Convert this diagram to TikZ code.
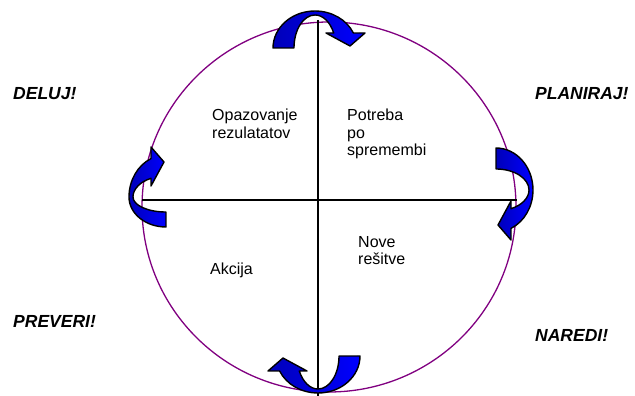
\documentclass[tikz,border=0pt]{standalone}
\usepackage{fontspec}
\setmainfont{Liberation Sans}
\definecolor{ringpurple}{RGB}{128,0,128}
\definecolor{arrowdark}{RGB}{0,0,185}
\definecolor{arrowblue}{RGB}{0,0,255}
\newcommand\cyclearrow[4]{%
  \begin{scope}[shift={(#1,#2)}, rotate=#3]
    \path[arrowsty] (-#4,0)
      arc[start angle=180,end angle=90,x radius=#4,y radius=37]
      arc[start angle=90,end angle=23.9,x radius=42,y radius=37]
      -- (50,15) -- (35,2) -- (11,15) -- (18.7,15)
      arc[start angle=27,end angle=90,x radius=21,y radius=33]
      arc[start angle=90,end angle=180,x radius=#4/2,y radius=33] -- cycle;
  \end{scope}}
\begin{document}
\begin{tikzpicture}[x=1pt,y=1pt,
  axisline/.style={line width=1.3pt, black},
  ring/.style={line width=1.3pt, draw=ringpurple},
  arrowsty/.style={draw=black, line width=1.4pt, line join=round,
    left color=arrowdark, right color=arrowblue},
  inner/.style={inner sep=0pt, align=left, font=\fontsize{16}{17.5}\selectfont},
  phase/.style={inner sep=0pt, font=\fontsize{17.5}{20}\selectfont\bfseries\itshape}]
\useasboundingbox (0,0) rectangle (635,396);
% circle and axes
\draw[ring] (329,189) ellipse[x radius=187, y radius=185];
\coordinate (vtop) at (318,376);
\coordinate (vbot) at (318,0);
\coordinate (hl) at (142,196);
\coordinate (hr) at (517,196);
\draw[axisline] (vtop) -- (vbot);
\draw[axisline] (hl) -- (hr);
% curved arrows
\cyclearrow{315}{348}{0}{42}
\cyclearrow{496}{206}{-90}{42}
\cyclearrow{318}{40}{180}{42}
\cyclearrow{166}{199}{90}{30}
% quadrant texts
\node[inner, anchor=north west] (obs) at (212,287) {Opazovanje\\rezulatatov};
\node[inner, anchor=north west] (need) at (347,287) {Potreba\\po\\spremembi};
\node[inner, anchor=north west] (new) at (358,160) {Nove\\rešitve};
\node[inner, anchor=north west] (act) at (210,133) {Akcija};
% phase labels
\node[phase, anchor=base west] (deluj) at (13,296) {DELUJ!};
\node[phase, anchor=base west] (plan) at (535,296) {PLANIRAJ!};
\node[phase, anchor=base west] (prev) at (13,68) {PREVERI!};
\node[phase, anchor=base west] (nared) at (535,54) {NAREDI!};
\end{tikzpicture}
\end{document}
